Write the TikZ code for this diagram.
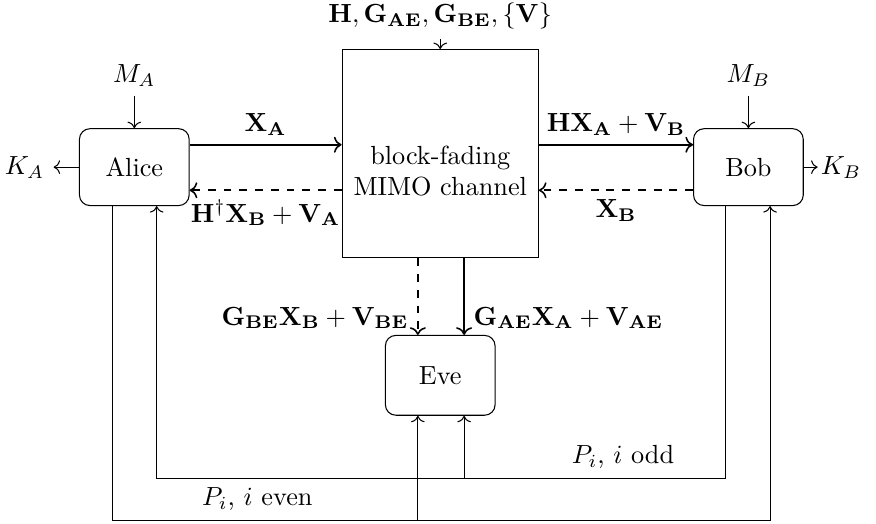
\documentclass[tikz,border=0pt]{standalone}
\usepackage{amsfonts,amssymb,amsmath}
\usepackage{tikz}
\usetikzlibrary{arrows.meta,arrows,positioning}

\begin{document}
\begin{tikzpicture}[->,
  party/.style={draw,rounded corners,minimum width=1.47cm,minimum height=1.03cm},
  chan/.style={draw,minimum width=2.63cm,minimum height=2.79cm},
  link/.style={semithick}]
\useasboundingbox (0,0) rectangle (11.74,7.01);
\node[party](alice) at (1.8,4.77) {Alice};
\node[party](bob) at (10.03,4.77) {Bob};
\node[chan](chan) at (5.9,4.95) {};
\node[align=center](chantext) at (5.9,4.72) {block-fading\\MIMO channel};
\node[party,minimum height=1.07cm](eve) at (5.9,1.98) {Eve};
\node(info) at (5.9,6.79) {$\mathbf{H},\mathbf{G_{AE}},\mathbf{G_{BE}},\{\mathbf{V}\}$};
\node(ma) at (1.8,6.0) {$M_A$};
\node(mb) at (10.03,6.0) {$M_B$};
\node(ka) at (0.33,4.77) {$K_A$};
\node[inner sep=1pt](kb) at (11.27,4.77) {$K_B$};
\coordinate (odd) at (0,0.6);
\coordinate (even) at (0,0.04);
% side inputs and outputs
\draw(info)--(chan);
\draw(ma)--(alice);
\draw(mb)--(bob);
\draw(alice)--(ka);
\draw(bob)--(kb);
% forward and reverse links
\draw[link]([yshift=0.3cm]alice.east)--node[above]{$\mathbf{X_A}$}([yshift=0.3cm]alice.east -| chan.west);
\draw[link,dashed]([yshift=-0.31cm]alice.east -| chan.west)--node[below]{$\mathbf{H}^\dagger\mathbf{X_B}+\mathbf{V_A}$}([yshift=-0.31cm]alice.east);
\draw[link]([yshift=0.3cm]bob.west -| chan.east)--node[above]{$\mathbf{H}\mathbf{X_A}+\mathbf{V_B}$}([yshift=0.3cm]bob.west);
\draw[link,dashed]([yshift=-0.31cm]bob.west)--node[below]{$\mathbf{X_B}$}([yshift=-0.31cm]bob.west -| chan.east);
\draw[link,dashed]([xshift=-0.3cm]chan.south)--node[pos=0.78,left]{$\mathbf{G_{BE}}\mathbf{X_B}+\mathbf{V_{BE}}$}([xshift=-0.3cm]eve.north);
\draw[link]([xshift=0.32cm]chan.south)--node[pos=0.78,right]{$\mathbf{G_{AE}}\mathbf{X_A}+\mathbf{V_{AE}}$}([xshift=0.32cm]eve.north);
% public messages
\draw([xshift=-0.31cm]bob.south)|-node[pos=0.59,above]{$P_i$, $i$ odd}([xshift=0.3cm]alice.south |- odd)--([xshift=0.3cm]alice.south);
\draw([xshift=0.32cm]eve.south |- odd)--([xshift=0.32cm]eve.south);
\draw([xshift=-0.29cm]alice.south)|-node[pos=0.61,above]{$P_i$, $i$ even}([xshift=0.29cm]bob.south |- even)--([xshift=0.29cm]bob.south);
\draw([xshift=-0.3cm]eve.south |- even)--([xshift=-0.3cm]eve.south);
\end{tikzpicture}
\end{document}
